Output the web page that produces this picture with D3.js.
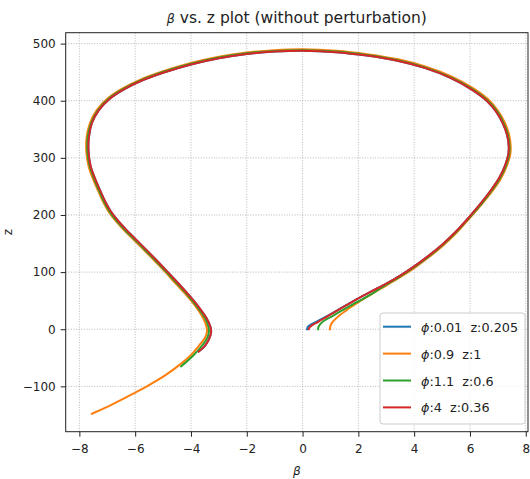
<!DOCTYPE html>
<html>
<head>
<meta charset="utf-8">
<script src="https://cdn.jsdelivr.net/npm/d3@7"></script>
<style>
  body { margin: 0; background: #fff; }
  svg { display: block; font-family: "DejaVu Sans", sans-serif; }
</style>
</head>
<body>
<svg id="chart" width="530" height="479"></svg>
<script>
// Axis ticks
const xTicks = [-8, -6, -4, -2, 0, 2, 4, 6, 8];
const yTicks = [-100, 0, 100, 200, 300, 400, 500];

// Legend values for each run
const phiValues = ["0.01", "0.9", "1.1", "4"];
const zValues = ["0.205", "1", "0.6", "0.36"];
const seriesColors = ["#1f77b4", "#ff7f0e", "#2ca02c", "#d62728"];

// Trajectories as [beta, z] pairs
const track1 = [[0.16,0],[0.19,4],[0.28,7.5],[0.45,12],[0.7,18.5],[1.04,27.5],[1.5,40.5],[2.0,54],[2.5,67],[3.0,80],[3.5,94],[4.0,110],[4.5,128],[5.0,148],[5.5,171],[6.0,198],[6.4,221],[6.76,244],[7.05,265],[7.26,287],[7.37,305],[7.39,320],[7.33,340],[7.18,360],[6.95,380],[6.6,400],[6.05,420],[5.3,440],[4.4,457],[3.4,470],[2.3,479],[1.2,485],[0,487.5],[-1,486],[-2,481.8],[-3,474.5],[-4,463.5],[-5,449],[-5.8,434.5],[-6.4,420],[-6.9,404],[-7.3,383.5],[-7.55,361],[-7.66,336],[-7.67,310],[-7.6,286],[-7.45,265],[-7.26,243.5],[-7.08,224],[-6.87,206],[-6.6,189],[-6.3,173],[-5.95,156],[-5.58,138],[-5.2,119],[-4.83,100],[-4.45,80],[-4.08,60],[-3.74,40],[-3.45,20],[-3.3,4],[-3.28,-6],[-3.36,-18],[-3.5,-29],[-3.72,-39]];

const track2 = [[0.98,0],[0.99,4],[1.03,9],[1.1,14],[1.2,19],[1.34,25],[1.5,30.5],[1.7,37.5],[2.1,50.5],[2.5,62.5],[3.0,76.5],[3.5,91],[4.0,107],[4.5,125],[5.0,145],[5.5,168],[6.0,195],[6.42,218.5],[6.8,241.5],[7.1,263],[7.32,286],[7.44,305],[7.46,320],[7.4,341],[7.25,361.5],[7.01,382],[6.65,402.5],[6.09,422.5],[5.33,442.5],[4.42,459.5],[3.42,472.5],[2.31,481.5],[1.2,487.5],[0,490],[-1,488.5],[-2,484.3],[-3,477],[-4,466],[-5,451.5],[-5.83,436.5],[-6.45,421.5],[-6.96,405],[-7.37,384],[-7.62,361],[-7.74,336],[-7.75,310],[-7.67,285.5],[-7.52,264],[-7.33,242.5],[-7.15,223],[-6.94,205],[-6.67,188],[-6.37,172],[-6.02,155],[-5.65,137],[-5.27,118],[-4.9,99],[-4.53,79],[-4.15,59],[-3.82,39],[-3.56,19],[-3.44,4],[-3.43,-5],[-3.5,-15],[-3.7,-28],[-4.0,-45],[-4.4,-62],[-4.9,-80],[-5.58,-100],[-6.0,-111],[-6.8,-131],[-7.55,-148]];

const track3 = [[0.56,0],[0.57,4],[0.62,8],[0.72,13],[0.88,18],[1.1,24],[1.4,32.5],[1.8,43.5],[2.2,54],[2.6,65.5],[3.0,78],[3.5,92.5],[4.0,108.5],[4.5,126.5],[5.0,146.5],[5.5,169.5],[6.0,196.5],[6.41,219.5],[6.78,243],[7.07,264],[7.29,286.5],[7.4,305],[7.42,320],[7.36,340.5],[7.21,360.5],[6.98,381],[6.62,401],[6.07,421],[5.31,441],[4.41,458],[3.41,471],[2.3,480],[1.2,486],[0,488.5],[-1,487],[-2,483],[-3,475.7],[-4,464.7],[-5,450.2],[-5.81,435.5],[-6.42,420.7],[-6.93,404.5],[-7.33,383.8],[-7.58,361],[-7.7,336],[-7.71,310],[-7.63,285.8],[-7.48,264.5],[-7.3,243],[-7.12,223.5],[-6.91,205.5],[-6.64,188.5],[-6.34,172.5],[-5.99,155.5],[-5.62,137.5],[-5.24,118.5],[-4.87,99.5],[-4.49,79.5],[-4.11,59.5],[-3.78,39.5],[-3.5,19.5],[-3.37,4],[-3.36,-5.5],[-3.43,-16.5],[-3.6,-28.5],[-3.9,-45],[-4.35,-65]];

const track4 = [[0.22,0],[0.25,3],[0.32,6],[0.45,10],[0.7,17],[1.04,27],[1.5,40],[2.0,54],[2.5,67],[3.0,80],[3.5,94],[4.0,110],[4.5,128],[5.0,148],[5.5,171],[6.0,198],[6.4,221],[6.76,244],[7.05,265],[7.26,287],[7.37,305],[7.39,320],[7.33,340],[7.18,360],[6.95,380],[6.6,400],[6.05,420],[5.3,440],[4.4,457],[3.4,470],[2.3,479],[1.2,485],[0,487.5],[-1,486],[-2,481.8],[-3,474.5],[-4,463.5],[-5,449],[-5.8,434.5],[-6.4,420],[-6.9,404],[-7.3,383.5],[-7.55,361],[-7.66,336],[-7.67,310],[-7.6,286],[-7.45,265],[-7.26,243.5],[-7.08,224],[-6.87,206],[-6.6,189],[-6.3,173],[-5.95,156],[-5.58,138],[-5.2,119],[-4.83,100],[-4.45,80],[-4.08,60],[-3.74,40],[-3.45,20],[-3.3,4],[-3.28,-6],[-3.36,-18],[-3.5,-29],[-3.72,-39]];

const tracks = [track1, track2, track3, track4];

const svg = d3.select("#chart");
const plot = { left: 65.7, right: 528, top: 32.7, bottom: 431.7 };

const x = d3.scaleLinear().domain([-8.49, 8.08]).range([plot.left, plot.right]);
const y = d3.scaleLinear().domain([-179.4, 519.1]).range([plot.bottom, plot.top]);

const fmt = d => (d < 0 ? "\u2212" + Math.abs(d) : String(d));

// Dotted grid
const grid = svg.append("g");
grid.selectAll(".gx").data(xTicks).join("line")
  .attr("x1", d => x(d)).attr("x2", d => x(d))
  .attr("y1", plot.top).attr("y2", plot.bottom);
grid.selectAll(".gy").data(yTicks).join("line")
  .attr("y1", d => y(d)).attr("y2", d => y(d))
  .attr("x1", plot.left).attr("x2", plot.right);
grid.selectAll("line")
  .attr("stroke", "#b0b0b0").attr("stroke-width", 0.9)
  .attr("stroke-dasharray", "1,1.6");

// Curves
const line = d3.line().x(d => x(d[0])).y(d => y(d[1])).curve(d3.curveCatmullRom.alpha(0.5));
svg.append("g").selectAll("path").data(tracks).join("path")
  .attr("d", d => line(d))
  .attr("fill", "none")
  .attr("stroke", (d, i) => seriesColors[i])
  .attr("stroke-width", 2)
  .attr("stroke-linecap", "square")
  .attr("stroke-linejoin", "round");

// Axes
const xAxis = d3.axisBottom(x).tickValues(xTicks).tickFormat(fmt).tickSize(5).tickPadding(8);
const yAxis = d3.axisLeft(y).tickValues(yTicks).tickFormat(fmt).tickSize(5).tickPadding(5);

const gx = svg.append("g").attr("transform", `translate(0,${plot.bottom})`).call(xAxis);
const gy = svg.append("g").attr("transform", `translate(${plot.left},0)`).call(yAxis);
[gx, gy].forEach(g => {
  g.select(".domain").remove();
  g.selectAll("text").attr("font-family", "DejaVu Sans").attr("font-size", 12).attr("fill", "#222");
  g.selectAll("line").attr("stroke", "#222").attr("stroke-width", 1);
});

// Frame
svg.append("rect")
  .attr("x", plot.left).attr("y", plot.top)
  .attr("width", plot.right - plot.left).attr("height", plot.bottom - plot.top)
  .attr("fill", "none").attr("stroke", "#222").attr("stroke-width", 1);

// Title
const title = svg.append("text")
  .attr("x", (plot.left + plot.right) / 2).attr("y", 23)
  .attr("text-anchor", "middle").attr("font-size", 15.5).attr("fill", "#222")
  .style("white-space", "pre");
title.append("tspan").attr("font-style", "italic").attr("font-size", 12.5).text("\u03B2");
title.append("tspan").text(" vs. z plot (without perturbation)");

// Axis labels
svg.append("text")
  .attr("x", (plot.left + plot.right) / 2).attr("y", 475)
  .attr("text-anchor", "middle").attr("font-style", "italic").attr("font-size", 12)
  .attr("fill", "#222").text("\u03B2");
svg.append("text")
  .attr("transform", `translate(12,${(plot.top + plot.bottom) / 2}) rotate(-90)`)
  .attr("text-anchor", "middle").attr("font-size", 12).attr("fill", "#222").text("z");

// Legend
const lg = svg.append("g").attr("transform", "translate(380,313)");
lg.append("rect").attr("width", 145).attr("height", 111).attr("rx", 3)
  .attr("fill", "#fff").attr("fill-opacity", 0.8)
  .attr("stroke", "#ccc").attr("stroke-width", 1);
const rows = lg.selectAll("g.row").data(phiValues).join("g")
  .attr("transform", (d, i) => `translate(0,${13.7 + i * 26.9})`);
rows.append("line").attr("x1", 3).attr("x2", 31).attr("y1", 0).attr("y2", 0)
  .attr("stroke", (d, i) => seriesColors[i]).attr("stroke-width", 2);
const lt = rows.append("text").attr("x", 41).attr("y", 5)
  .attr("font-size", 12.8).attr("fill", "#222").style("white-space", "pre");
lt.append("tspan").attr("font-style", "italic").text("\u03D5");
lt.append("tspan").text((d, i) => ":" + d + "  z:" + zValues[i]);
</script>
</body>
</html>
